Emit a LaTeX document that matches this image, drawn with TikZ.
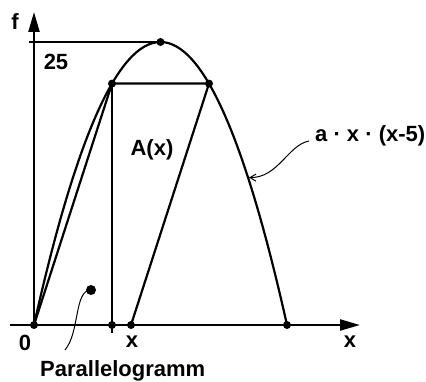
\documentclass[tikz,border=0pt]{standalone}
\usepackage{fontspec}
\setmainfont{Liberation Sans}
\usetikzlibrary{arrows.meta}
\tikzset{
  thick line/.style={line width=2.2pt},
  thin line/.style={line width=1.2pt},
  axis/.style={line width=2.2pt,-{Triangle[length=20pt,width=11pt]}},
  dot/.style={circle,fill=black,inner sep=0pt,minimum size=8pt},
  bigdot/.style={circle,fill=black,inner sep=0pt,minimum size=10pt},
  lbl/.style={inner sep=0pt,font=\bfseries\fontsize{22}{22}\selectfont},
  leader/.style={line width=1pt},
}
\begin{document}
\begin{tikzpicture}[x=1pt,y=-1pt]
\useasboundingbox (0,0) rectangle (426,382);
% coordinates
\coordinate (O) at (34,325);
\coordinate (E) at (287,325);
\coordinate (Top) at (160.5,42);
\coordinate (P1) at (112,83.6);
\coordinate (P2) at (209,83.6);
\coordinate (B) at (131,325);
\coordinate (X1) at (112,325);
\coordinate (X1b) at (112,333);
\coordinate (Yl) at (29,42);
\coordinate (xs) at (10,325);
\coordinate (xe) at (360,325);
\coordinate (ye) at (34,12);
\coordinate (Tip) at (249,177.5);
\coordinate (LS) at (309,141);
\coordinate (PE) at (65,350);
% axes
\draw[axis] (xs) -- (xe);
\draw[axis] (O) -- (ye);
% thin lines
\draw[thin line] (Yl) -- (Top);
\draw[thin line] (P1) -- (X1b);
% parabola
\draw[thick line] (O) .. controls (118.33,-52.33) and (202.67,-52.33) .. (E);
% parallelogram
\draw[thick line,line join=round] (O) -- (P1) -- (P2) -- (B);
% dots
\node[dot] (dTop) at (Top) {};
\node[dot] (dP1) at (P1) {};
\node[dot] (dP2) at (P2) {};
\node[dot] (dO) at (O) {};
\node[dot] (dX1) at (X1) {};
\node[dot] (dB) at (B) {};
\node[dot] (dE) at (E) {};
\node[bigdot] (pd) at (91,290) {};
% leaders
\draw[leader] (pd.center) .. controls (74,290) and (80,332) .. (PE);
\draw[leader,-{Straight Barb[length=6pt,width=7pt]}] (LS) .. controls (288,145) and (278,178) .. (Tip);
% labels
\node[lbl,anchor=base] (lf) at (15,30) {f};
\node[lbl,anchor=base] (l25) at (56,70) {25};
\node[lbl,anchor=base] (lA) at (152,156) {A(x)};
\node[lbl,anchor=base west] (lfun) at (315,142) {a · x · (x-5)};
\node[lbl,anchor=base] (l0) at (25,350) {0};
\node[lbl,anchor=base] (lx1) at (132,348) {x};
\node[lbl,anchor=base] (lx2) at (350,347) {x};
\node[lbl,anchor=base west] (lpar) at (40,376.5) {Parallelogramm};
\end{tikzpicture}
\end{document}
